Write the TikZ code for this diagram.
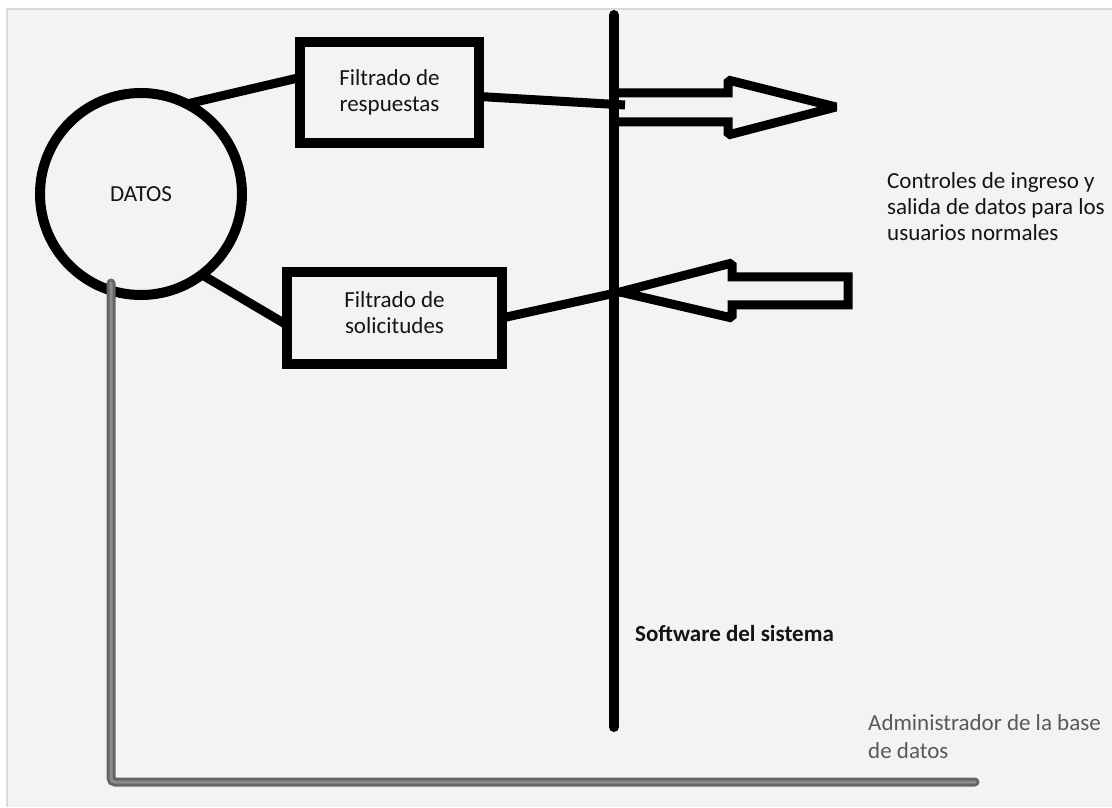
\documentclass[tikz,border=0pt]{standalone}
\usepackage{fontspec}
\setmainfont{Carlito}
\definecolor{fondo}{HTML}{F3F3F3}
\definecolor{marco}{HTML}{DADADA}
\definecolor{texto}{HTML}{141414}
\definecolor{admgris}{HTML}{666666}
\definecolor{admluz}{HTML}{8C8C8C}
\definecolor{admtexto}{HTML}{595959}

\begin{document}
\begin{tikzpicture}[x=1pt, y=1pt,
	letra/.style={font=\fontsize{23}{26}\selectfont, text=texto},
	base/.style={letra, draw, line width=10pt, outer sep=0pt},
	caja/.style={base, rectangle, align=center},
	enlace/.style={line width=9pt},
	flecha/.style={line width=9pt, line join=miter, miter limit=1.5},
	admline/.style={draw=admgris, line width=3pt, double=admluz, double distance=3pt, line cap=round, rounded corners=4pt}]
	\fill[white] (0,0) rectangle (1112,807); % weisser Rand
	\useasboundingbox (0,0) rectangle (1112,807);
	\fill[fondo] (7,0) rectangle (1112,798);
	\draw[marco, line width=2pt] (7,0) -- (7,798) -- (1112,798);

	\node[base, circle, minimum size=202pt] (datos) at (141,613) {DATOS};
	\node[caja, minimum width=179pt, minimum height=101pt] (resp) at (389.5,714.5) {Filtrado de\\respuestas};
	\node[caja, minimum width=215pt, minimum height=92pt, text depth=10pt] (sol) at (394.5,489) {Filtrado de\\solicitudes};

	% Software del sistema
	\coordinate (stop) at (614,792);
	\coordinate (sbot) at (614,80);
	\draw[line width=10pt, line cap=round] (stop) -- (sbot);
	\coordinate (rsal) at (625,702);
	\coordinate (ltip) at (620,515);

	\draw[enlace] (datos.63) -- ([yshift=15pt]resp.west);
	\draw[enlace] (datos.-53) -- ([yshift=-7pt]sol.west);
	\draw[enlace] ([yshift=-4pt]resp.east) -- (rsal);
	\draw[enlace] (sol.east) -- (ltip);

	% Flechas
	\draw[flecha] (614,714) -- (728,714) -- (728,727) -- (836,700) -- (728,672) -- (728,685) -- (614,685);
	\draw[flecha] (ltip) -- (732,544) -- (732,530) -- (848,530) -- (848,502) -- (732,502) -- (732,489) -- cycle;

	% Administrador
	\coordinate (adm) at (111,524);
	\coordinate (admend) at (975,25);
	\draw[admline] (adm) |- (admend);

	\node[letra, anchor=north west, inner sep=0pt, align=left] (ctrl) at (887,635) {Controles de ingreso y\\salida de datos para los\\usuarios normales};
	\node[letra, anchor=base west, inner sep=0pt, font=\fontsize{23}{26}\selectfont\bfseries] (soft) at (635,166) {Software del sistema};
	\node[letra, anchor=north west, inner sep=0pt, align=left, text=admtexto, font=\fontsize{23}{28}\selectfont] (admtxt) at (868,93) {Administrador de la base\\de datos};

	%\draw[help lines, step=50] (0,0) grid (1112,807);
\end{tikzpicture}
\end{document}
